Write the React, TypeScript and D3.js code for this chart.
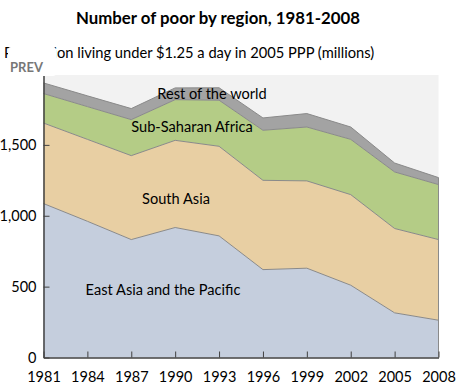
import React, { useEffect, useRef } from 'react';
import { select, scaleLinear, stack, area, line, axisBottom, axisLeft, format } from 'd3';

const years = [1981, 1984, 1987, 1990, 1993, 1996, 1999, 2002, 2005, 2008];
const eastAsia = [1086, 961, 832, 917, 858, 620, 630, 510, 315, 263];
const southAsia = [568, 578, 592, 615, 632, 630, 616, 639, 595, 569];
const subSaharan = [208, 231, 254, 287, 325, 353, 380, 390, 399, 388];
const restOfWorld = [75, 76, 78, 83, 88, 87, 95, 87, 63, 49];
const regionNames = ['East Asia and the Pacific', 'South Asia', 'Sub-Saharan Africa', 'Rest of the world'];
const yTicks = [0, 500, 1000, 1500];

const W = 459;
const H = 391;
const FONT = 'Lato, "Open Sans", sans-serif';

const App: React.FC = () => {
  const svgRef = useRef<SVGSVGElement>(null);

  useEffect(() => {
    if (!svgRef.current) return;
    const svg = select(svgRef.current);
    svg.selectAll('*').remove();

    const rows = years.map((yr, i) => ({
      year: yr,
      ea: eastAsia[i],
      sa: southAsia[i],
      ssa: subSaharan[i],
      row: restOfWorld[i],
    }));
    const keys = ['ea', 'sa', 'ssa', 'row'];
    const fills = ['#c5cedd', '#e8cfa3', '#b4cc86', '#a3a3a3'];

    const x = scaleLinear().domain([1981, 2008]).range([43.5, 438.5]);
    const y = scaleLinear().domain([0, 2000]).range([357.5, 74]);

    // plot background
    svg.append('rect')
      .attr('x', x(1981)).attr('y', 75)
      .attr('width', x(2008) - x(1981)).attr('height', y(0) - 75)
      .attr('fill', '#f2f2f2');

    const series = stack<any>().keys(keys)(rows);

    const areaGen = area<any>()
      .x(d => x(d.data.year))
      .y0(d => y(d[0]))
      .y1(d => y(d[1]));
    const topLine = line<any>()
      .x(d => x(d.data.year))
      .y(d => y(d[1]));

    svg.append('g').selectAll('path')
      .data(series)
      .join('path')
      .attr('d', areaGen)
      .attr('fill', (_d, i) => fills[i]);

    svg.append('g').selectAll('path')
      .data(series)
      .join('path')
      .attr('d', topLine)
      .attr('fill', 'none')
      .attr('stroke', '#8a8a8a')
      .attr('stroke-width', 1);

    // right edge of area
    svg.append('line')
      .attr('x1', x(2008)).attr('x2', x(2008))
      .attr('y1', y(0)).attr('y2', y(series[3][9][1]))
      .attr('stroke', '#8a8a8a');

    // axes
    const xAxis = svg.append('g')
      .attr('transform', `translate(0,${y(0)})`)
      .call(axisBottom(x).tickValues(years).tickFormat(format('d')).tickSizeInner(-6).tickSizeOuter(0));
    xAxis.select('.domain').attr('stroke', '#404040').attr('stroke-width', 1.5);
    xAxis.selectAll('.tick line').attr('stroke', '#404040');
    xAxis.selectAll('.tick text')
      .attr('y', 14)
      .attr('fill', '#000')
      .style('font-family', FONT)
      .style('font-size', '14.5px');

    const yAxis = svg.append('g')
      .attr('transform', `translate(${x(1981)},0)`)
      .call(axisLeft(y).tickValues(yTicks).tickFormat(format(',')).tickSizeInner(-6).tickSizeOuter(0));
    yAxis.select('.domain').attr('stroke', '#404040').attr('stroke-width', 1.5);
    yAxis.selectAll('.tick line').attr('stroke', '#404040');
    yAxis.selectAll('.tick text')
      .attr('x', -7)
      .attr('fill', '#000')
      .style('font-family', FONT)
      .style('font-size', '14.5px');

    // region labels
    const labelPos = [
      { x: 163, y: 290 },
      { x: 176, y: 199 },
      { x: 192, y: 127 },
      { x: 212, y: 94 },
    ];
    svg.append('g').selectAll('text')
      .data(regionNames)
      .join('text')
      .attr('x', (_d, i) => labelPos[i].x)
      .attr('y', (_d, i) => labelPos[i].y)
      .attr('dy', '0.35em')
      .attr('text-anchor', 'middle')
      .attr('fill', '#000')
      .style('font-family', FONT)
      .style('font-size', '14.6px')
      .text(d => d);

    // titles
    svg.append('text')
      .attr('x', 218).attr('y', 24)
      .attr('text-anchor', 'middle')
      .style('font-family', FONT)
      .style('font-size', '16.8px')
      .style('font-weight', 'bold')
      .text('Number of poor by region, 1981-2008');
    svg.append('text')
      .attr('x', 4).attr('y', 58)
      .style('font-family', FONT)
      .style('font-size', '14.7px')
      .text('Population living under $1.25 a day in 2005 PPP (millions)');

    // PREV overlay button
    svg.append('rect')
      .attr('x', 8).attr('y', 47)
      .attr('width', 48).attr('height', 29)
      .attr('rx', 3)
      .attr('fill', '#fff');
    svg.append('text')
      .attr('x', 10).attr('y', 72)
      .attr('fill', '#777')
      .style('font-family', FONT)
      .style('font-size', '13px')
      .style('font-weight', 'bold')
      .text('PREV');
  }, []);

  return (
    <div style={{ position: 'fixed', left: 0, top: 0, width: W, height: H, background: '#fff' }}>
      <svg ref={svgRef} width={W} height={H}></svg>
    </div>
  );
};

export default App;
